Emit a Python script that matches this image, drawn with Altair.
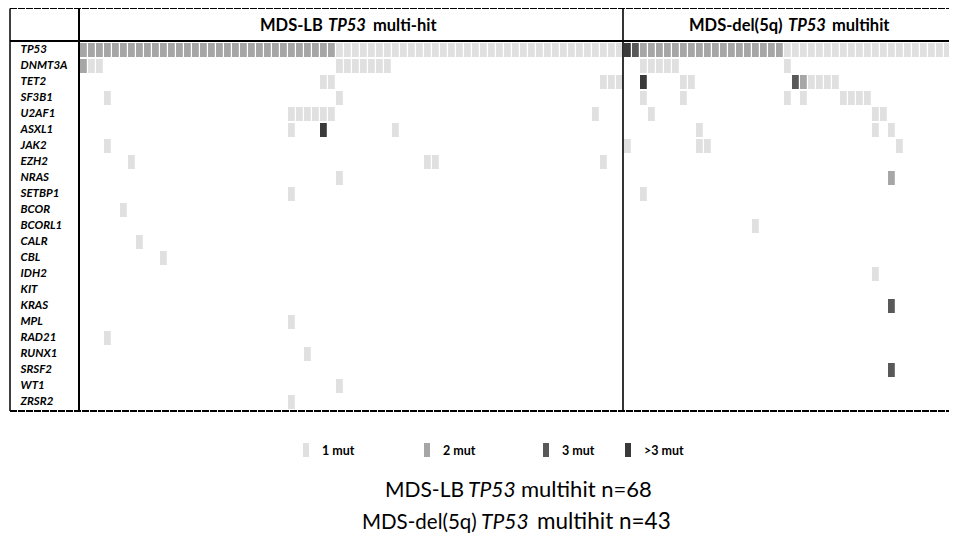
import altair as alt
import pandas as pd

# ---------------- data ----------------
genes = ["TP53", "DNMT3A", "TET2", "SF3B1", "U2AF1", "ASXL1", "JAK2", "EZH2",
         "NRAS", "SETBP1", "BCOR", "BCORL1", "CALR", "CBL", "IDH2", "KIT",
         "KRAS", "MPL", "RAD21", "RUNX1", "SRSF2", "WT1", "ZRSR2"]

levels = ["1 mut", "2 mut", "3 mut", ">3 mut"]
level_colors = ["#e0e0e0", "#a6a6a6", "#595959", "#3a3a3a"]

n_lb = 68
n_del5q = 43

# runs of patients: (gene, first patient, last patient, number of mutations)
lb_runs = [
    ("TP53", 0, 31, 2), ("TP53", 32, 67, 1),
    ("DNMT3A", 0, 0, 2), ("DNMT3A", 1, 2, 1), ("DNMT3A", 32, 38, 1),
    ("TET2", 30, 31, 1), ("TET2", 65, 67, 1),
    ("SF3B1", 3, 3, 1), ("SF3B1", 32, 32, 1),
    ("U2AF1", 26, 31, 1), ("U2AF1", 64, 64, 1),
    ("ASXL1", 26, 26, 1), ("ASXL1", 30, 30, 4), ("ASXL1", 39, 39, 1),
    ("JAK2", 3, 3, 1),
    ("EZH2", 6, 6, 1), ("EZH2", 43, 44, 1), ("EZH2", 65, 65, 1),
    ("NRAS", 32, 32, 1),
    ("SETBP1", 26, 26, 1),
    ("BCOR", 5, 5, 1),
    ("CALR", 7, 7, 1),
    ("CBL", 10, 10, 1),
    ("MPL", 26, 26, 1),
    ("RAD21", 3, 3, 1),
    ("RUNX1", 28, 28, 1),
    ("WT1", 32, 32, 1),
    ("ZRSR2", 26, 26, 1),
]

del5q_runs = [
    ("TP53", 0, 0, 4), ("TP53", 1, 1, 3), ("TP53", 2, 19, 2), ("TP53", 20, 42, 1),
    ("DNMT3A", 2, 6, 1), ("DNMT3A", 20, 20, 1),
    ("TET2", 2, 2, 4), ("TET2", 7, 8, 1), ("TET2", 21, 21, 3), ("TET2", 22, 22, 2),
    ("TET2", 23, 26, 1),
    ("SF3B1", 2, 2, 1), ("SF3B1", 7, 7, 1), ("SF3B1", 20, 20, 1), ("SF3B1", 22, 22, 1),
    ("SF3B1", 27, 30, 1),
    ("U2AF1", 3, 3, 1), ("U2AF1", 31, 32, 1),
    ("ASXL1", 9, 9, 1), ("ASXL1", 31, 31, 1), ("ASXL1", 33, 33, 1),
    ("JAK2", 0, 0, 1), ("JAK2", 9, 10, 1), ("JAK2", 34, 34, 1),
    ("NRAS", 33, 33, 2),
    ("SETBP1", 2, 2, 1),
    ("BCORL1", 16, 16, 1),
    ("IDH2", 31, 31, 1),
    ("KIT", 41, 41, 1),
    ("KRAS", 33, 33, 3),
    ("SRSF2", 33, 33, 3),
]

# ---------------- build the cell table ----------------
rows = []
for offset, runs in ((0, lb_runs), (n_lb, del5q_runs)):
    for gene, p0, p1, n in runs:
        for p in range(p0, p1 + 1):
            rows.append({"gene": gene, "col": offset + p, "col2": offset + p + 1,
                         "level": levels[min(n, 4) - 1]})
cells_df = pd.DataFrame(rows)

W, H = 869, 368
XDOM = [0, W / 8]
FONT = "Lato"

xscale = alt.Scale(domain=XDOM, nice=False, zero=False)
cscale = alt.Scale(domain=levels, range=level_colors)

cells = alt.Chart(cells_df).mark_rect(x2Offset=-1.2, clip=True).encode(
    x=alt.X("col:Q", scale=xscale, axis=None),
    x2="col2:Q",
    y=alt.Y("gene:N", sort=genes,
            scale=alt.Scale(domain=genes, paddingInner=0.125, paddingOuter=0.0625),
            axis=alt.Axis(domain=False, ticks=False, grid=False, title=None,
                          labelAlign="left", labelPadding=60, labelFont=FONT,
                          labelFontSize=11.5, labelFontWeight="bold",
                          labelFontStyle="italic", labelColor="black")),
    color=alt.Color("level:N", scale=cscale, legend=None),
)

# separator between the two cohorts, placed on the patient scale
sep_df = pd.DataFrame({"c": [n_lb]})
separator = alt.Chart(sep_df).mark_rule(color="black", strokeWidth=1.6, xOffset=-1).encode(
    x=alt.X("c:Q", scale=xscale, axis=None),
    y=alt.value(-33.5), y2=alt.value(369),
)

def hline(y, width, dash=None):
    kw = dict(color="black", strokeWidth=width)
    if dash:
        kw["strokeDash"] = dash
    return alt.Chart(sep_df).mark_rule(**kw).encode(
        x=alt.value(-70), x2=alt.value(W), y=alt.value(y))

def vline(x, width):
    return alt.Chart(sep_df).mark_rule(color="black", strokeWidth=width).encode(
        x=alt.value(x), y=alt.value(-33.5), y2=alt.value(369))

frame = [
    hline(-33.5, 1, [7, 1]),
    hline(-1, 2),
    hline(369, 2, [7, 1]),
    vline(-70, 1.5),
    vline(-1, 2),
]

def txt(text, x, y, size, weight="normal", style="normal"):
    return alt.Chart(pd.DataFrame({"t": [text]})).mark_text(
        align="left", baseline="alphabetic", font=FONT, fontSize=size,
        fontWeight=weight, fontStyle=style, color="black",
    ).encode(text="t:N", x=alt.value(x), y=alt.value(y))

# legend: one swatch + label per mutation level (layout positions, plot px)
LEGEND_X = [223, 344, 463, 545]
legend = []
for lvl, lx in zip(levels, LEGEND_X):
    ldf = pd.DataFrame({"level": [lvl]})
    legend.append(alt.Chart(ldf).mark_rect().encode(
        x=alt.value(lx), x2=alt.value(lx + 6),
        y=alt.value(401), y2=alt.value(415),
        color=alt.Color("level:N", scale=cscale, legend=None)))
    legend.append(alt.Chart(ldf).mark_text(
        align="left", baseline="alphabetic", font=FONT, fontSize=12.5,
        fontWeight="bold", color="black").encode(
        text="level:N", x=alt.value(lx + 19), y=alt.value(413)))

headers = [
    txt("MDS-LB", 180, -11, 16.5, "bold"),
    txt("TP53", 248, -11, 16.5, "bold", "italic"),
    txt("multi-hit", 293, -11, 16.5, "bold"),
    txt("MDS-del(5q)", 609, -11, 16.5, "bold"),
    txt("TP53", 708, -11, 16.5, "bold", "italic"),
    txt("multihit", 752, -11, 16.5, "bold"),
]

captions = [
    txt("MDS-LB", 305, 455, 21),
    txt("TP53", 388, 455, 21, style="italic"),
    txt(f"multihit n={n_lb}", 441, 455, 22),
    txt("MDS-del(5q)", 282, 487, 20.5),
    txt("TP53", 401, 487, 21, style="italic"),
    txt(f"multihit n={n_del5q}", 457, 487, 22.5),
]

chart = alt.layer(cells, separator, *frame, *legend, *headers, *captions).properties(
    width=W, height=H,
    padding={"left": 72, "top": 34, "right": 0, "bottom": 126},
    autosize=alt.AutoSizeParams(type="none"),
).configure_view(stroke=None)

chart.save("out.html", embed_options={"renderer": "svg", "actions": False})
